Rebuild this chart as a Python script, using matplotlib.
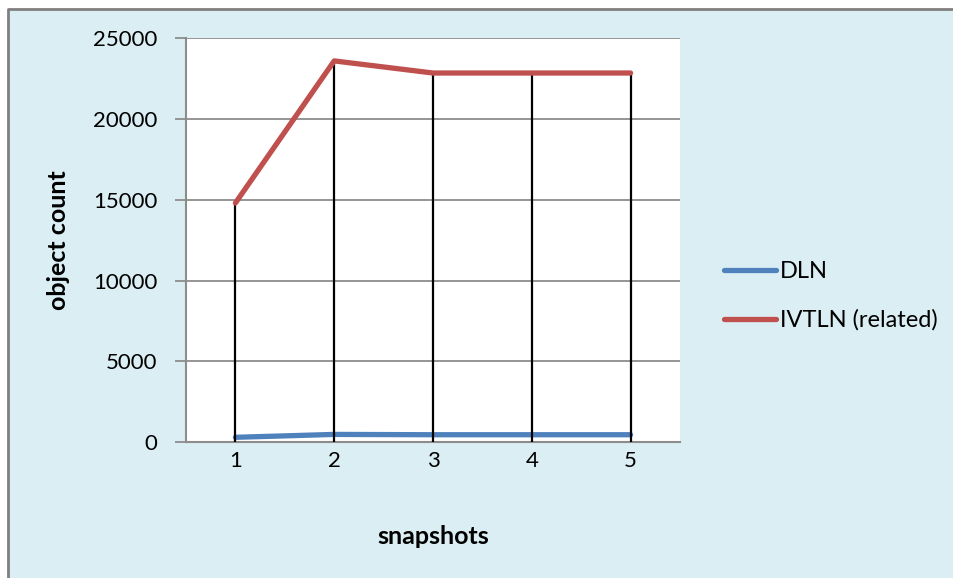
import matplotlib.pyplot as plt
from matplotlib.patches import Rectangle
from matplotlib.lines import Line2D

# Object counts per snapshot
snapshots = [1, 2, 3, 4, 5]
dln = [290, 470, 450, 450, 450]
ivtln = [14800, 23600, 22850, 22850, 22850]
yticks = [0, 5000, 10000, 15000, 20000, 25000]

plt.rcParams['font.family'] = ['Lato', 'DejaVu Sans']

bg = '#dbeef3'
grid_c = '#8c8c8c'

fig = plt.figure(figsize=(9.54, 5.78), dpi=100)
fig.patch.set_facecolor('white')

# chart area: light blue fill, grey frame on the left and top
x0, y1 = 8 / 954, 1 - 9 / 578
fig.add_artist(Rectangle((x0, 0), 1 - x0, y1, transform=fig.transFigure,
                         facecolor=bg, edgecolor='none', zorder=-10))
fig.add_artist(Line2D([x0, x0, 1], [0, y1, y1], transform=fig.transFigure,
                      color='#7f7f7f', lw=2, zorder=-9))

ax = fig.add_axes([186 / 954, 1 - 442 / 578, (680 - 186) / 954, (442 - 38.3) / 578])
ax.set_facecolor('white')

ax.plot(snapshots, dln, color='#4f81bd', lw=3.8, solid_capstyle='round',
        solid_joinstyle='round', label='DLN', zorder=2)
# drop lines from the highest point down to the axis
tops = [max(a, b) for a, b in zip(dln, ivtln)]
ax.vlines(snapshots, 0, tops, color='black', lw=1.6, zorder=3)
ax.plot(snapshots, ivtln, color='#c0504d', lw=3.8, solid_capstyle='round',
        solid_joinstyle='round', label='IVTLN (related)', zorder=4)

ax.set_xlim(0.5, 5.5)
ax.set_ylim(0, 25000)
ax.set_yticks(yticks)
ax.set_xticks(snapshots)
ax.yaxis.grid(True, color=grid_c, lw=1.3)
ax.set_axisbelow(True)

for s in ['top', 'right']:
    ax.spines[s].set_visible(False)
for s in ['left', 'bottom']:
    ax.spines[s].set_color(grid_c)
    ax.spines[s].set_linewidth(1.5)

ax.tick_params(axis='y', length=8, width=1.3, color=grid_c, pad=12.5, labelsize=16)
ax.tick_params(axis='x', length=0, pad=6.5, labelsize=16)

ax.set_xlabel('snapshots', fontsize=18, fontweight='bold', labelpad=39)
ax.set_ylabel('object count', fontsize=18, fontweight='bold', labelpad=17)

leg = ax.legend(loc='center left', bbox_to_anchor=(703 / 954, 1 - 296 / 578),
                bbox_transform=fig.transFigure, frameon=False, fontsize=17,
                handlelength=2.2, handletextpad=0.15, labelspacing=1.15)

fig.savefig('out.png', dpi=100, facecolor=fig.get_facecolor())
